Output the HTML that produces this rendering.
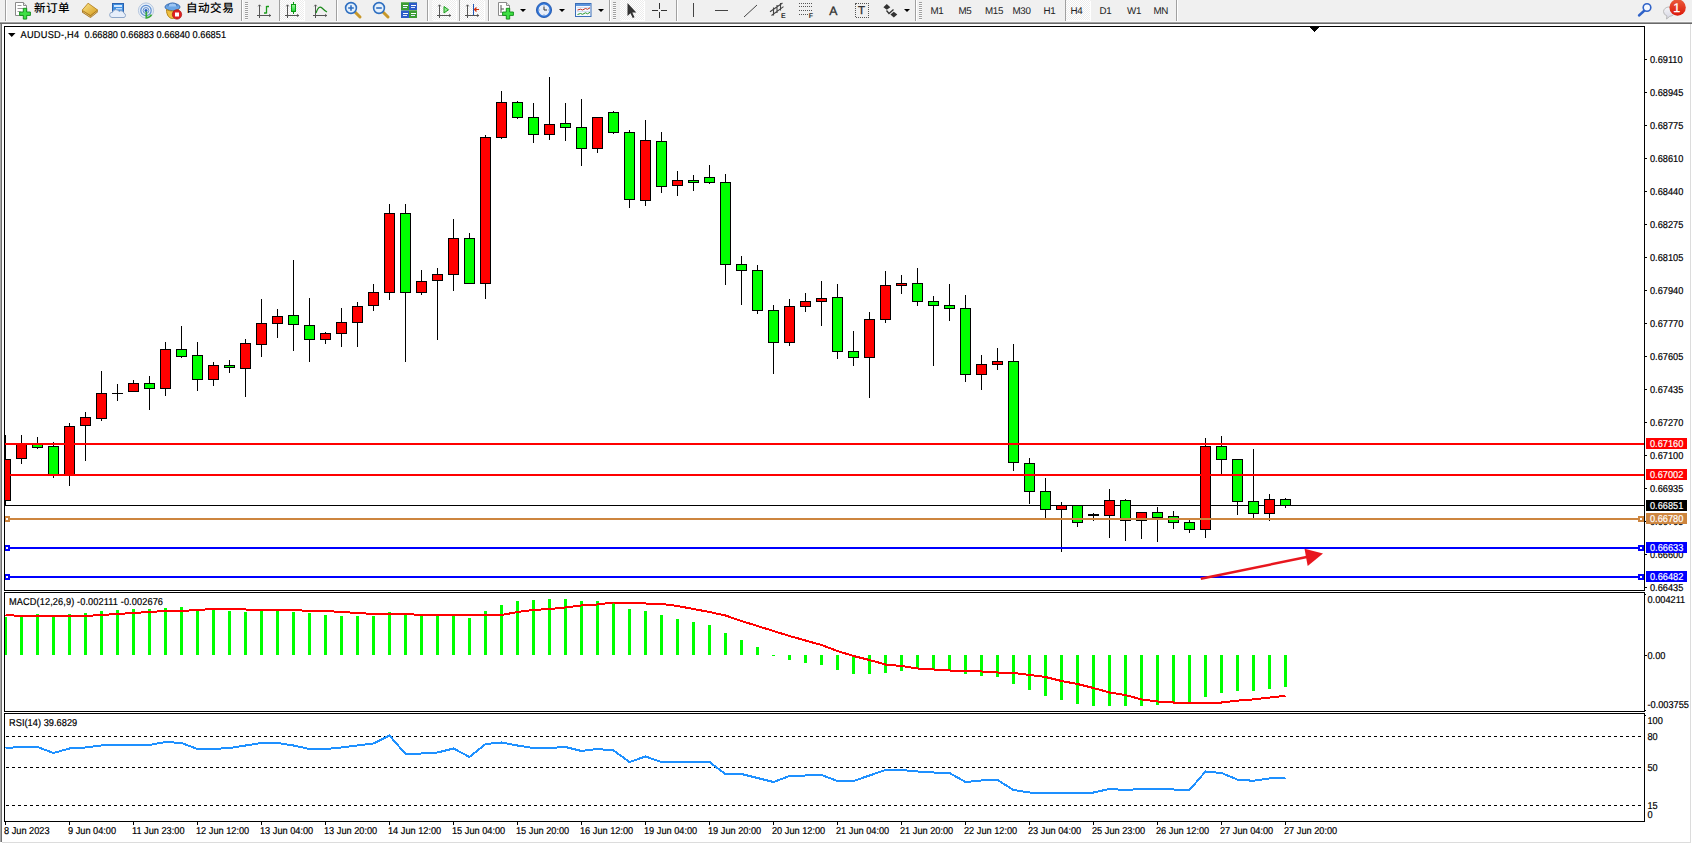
<!DOCTYPE html>
<html lang="zh"><head><meta charset="utf-8"><title>AUDUSD-,H4</title>
<style>
html,body{margin:0;padding:0;background:#fff;}
body{width:1692px;height:844px;overflow:hidden;position:relative;font-family:"Liberation Sans","Noto Sans CJK SC",sans-serif;}
#tb{position:absolute;left:0;top:0;width:1692px;height:22px;background:#f0f0f0;box-shadow:inset 0 -1px 0 #f7f7f7;}
#tbshadow{position:absolute;left:0;top:22px;width:1692px;height:2px;background:linear-gradient(#a0a0a0 0 50%,#696969 50% 100%);}
#leftedge{position:absolute;left:0;top:24px;width:2px;height:818px;background:linear-gradient(90deg,#a8a8a8 0 50%,#707070 50% 100%);}
#rightedge{position:absolute;left:1690px;top:24px;width:1px;height:819px;background:#dcdcdc;}
#botedge{position:absolute;left:2px;top:842px;width:1689px;height:1px;background:#dcdcdc;}
.sep{position:absolute;top:0;width:1px;height:21px;background:#a0a0a0;box-shadow:1px 0 0 #fff;}
.grip{position:absolute;top:2px;width:3px;height:18px;background:repeating-linear-gradient(#a0a0a0 0 1px,#fafafa 1px 2px);}
.pressed{position:absolute;top:0;height:20px;box-shadow:1px 1px 0 #fff;background:#f7f7f7;background-image:repeating-conic-gradient(#fff 0 25%,#ececec 0 50%);background-size:2px 2px;}
.t{position:absolute;color:#000;white-space:nowrap;text-rendering:geometricPrecision;}
.cn{font-size:11.6px;top:1.4px;line-height:16px;letter-spacing:.45px;font-weight:500;font-family:"Liberation Sans","Noto Sans CJK SC",sans-serif;}
.tf{font-size:9.8px;top:6.3px;line-height:11px;color:#222;letter-spacing:-.3px;}
.ic{position:absolute;overflow:visible;}
.dd{position:absolute;top:9px;width:0;height:0;border-left:3px solid transparent;border-right:3px solid transparent;border-top:3px solid #000;}
</style></head><body>
<div id="tb">
<div class="sep" style="left:5px"></div>
<!-- new order -->
<svg class="ic" style="left:14px;top:1px" width="18" height="20" viewBox="0 0 18 20"><path d="M1.5 1.5h8l3 3v10h-11z" fill="#fff" stroke="#8a8a8a"/><path d="M9.5 1.5v3h3" fill="#e8e8e8" stroke="#8a8a8a"/><path d="M3.5 4.5h4M3.5 7.5h6M3.5 10.5h3" stroke="#9a9a9a"/><path d="M9.300 7.300h3.400v3.700h3.700v3.400h-3.700v3.700h-3.400v-3.700h-3.700v-3.400h3.700z" fill="#3fe045" stroke="#0c8a14" stroke-width=".9"/></svg>
<span class="t cn" style="left:34px">新订单</span>
<!-- book -->
<svg class="ic" style="left:81px;top:2px" width="18" height="17" viewBox="0 0 18 17"><defs><linearGradient id="bk" x1="0" y1="0" x2="1" y2="1"><stop offset="0" stop-color="#fbe58a"/><stop offset="1" stop-color="#d49a1c"/></linearGradient></defs><path d="M1.100 8.200 7.100 1.200 16.700 8 16.700 10.200 9.500 15.900 1.100 10.400z" fill="#a06c14"/><path d="M1.100 8.200 7.100 1.200 16.700 8 9.500 13.600z" fill="url(#bk)" stroke="#b07c1c" stroke-width=".7"/><path d="M2 9.800 9.500 14.800 16 9.600" stroke="#f0d890" stroke-width=".7" fill="none"/></svg>
<!-- cloud -->
<svg class="ic" style="left:109px;top:2px" width="18" height="17" viewBox="0 0 18 17"><rect x="3.5" y="1.5" width="11" height="9" fill="#3f8fe0" stroke="#2a62b0"/><rect x="5" y="3" width="8" height="2" fill="#cfe6ff"/><rect x="7" y="6" width="6" height="1.5" fill="#bcd9fa"/><path d="M3 15.5a2.6 2.6 0 0 1 .5-5.2 3.6 3.6 0 0 1 6.6-.8 3 3 0 0 1 4.900 1.800 2.200 2.200 0 0 1 0 4.200z" fill="#e6eefa" stroke="#8ea6c8"/></svg>
<!-- signal -->
<svg class="ic" style="left:137px;top:2px" width="18" height="17" viewBox="0 0 18 17"><circle cx="9" cy="8.500" r="7.600" fill="#e6eef8" stroke="#a8bcd8" stroke-width=".8"/><circle cx="9" cy="8.500" r="5.200" fill="none" stroke="#5f8fd0" stroke-width="1.200"/><circle cx="9" cy="8.500" r="2.900" fill="none" stroke="#5f8fd0" stroke-width="1"/><circle cx="9" cy="8.500" r="1.500" fill="#1f5cc0"/><path d="M9.300 9.500v6.300c2.400-.2 4.200-1.400 5.200-3.200" stroke="#3aa83a" stroke-width="1.700" fill="none"/></svg>
<!-- autotrade -->
<svg class="ic" style="left:164px;top:2px" width="19" height="18" viewBox="0 0 19 18"><ellipse cx="8.500" cy="5" rx="7.500" ry="3.600" fill="#6aa6e6" stroke="#3a6eb4"/><path d="M4 4.500a4.500 3.500 0 0 1 9 0" fill="#9cc6f4" stroke="#3a6eb4"/><path d="M2.500 7.500c0 6 3 9 6 9s6-3 6-9c-3 2-9 2-12 0z" fill="#f0c040" stroke="#b58412"/><circle cx="13" cy="12.500" r="4.700" fill="#e02020" stroke="#a01010" stroke-width=".6"/><rect x="11" y="10.500" width="4" height="4" fill="#fff"/></svg>
<span class="t cn" style="left:186px">自动交易</span>
<div class="sep" style="left:241px"></div><div class="grip" style="left:245px"></div>
<!-- bar chart -->
<svg class="ic" style="left:256px;top:2px" width="17" height="17" viewBox="0 0 17 17"><path d="M3.500 2.500v13.500M1 13.500h14" stroke="#555" fill="none" shape-rendering="crispEdges"/><path d="M2.200 4.300 3.500 2.800 4.800 4.300M13.200 12.200 14.700 13.500 13.200 14.800" stroke="#555" fill="none" stroke-width=".9"/><path d="M10.500 4v7.500M10.500 4.500h2.500M8 11h2.500" stroke="#1a9a1a" stroke-width="1.300" fill="none"/></svg>
<div class="sep" style="left:279px"></div>
<div class="pressed" style="left:280px;width:24px"></div>
<svg class="ic" style="left:284px;top:2px" width="17" height="17" viewBox="0 0 17 17"><path d="M3.500 2.500v13.500M1 13.500h14" stroke="#555" fill="none" shape-rendering="crispEdges"/><path d="M2.200 4.300 3.500 2.800 4.800 4.300M13.200 12.200 14.700 13.500 13.200 14.800" stroke="#555" fill="none" stroke-width=".9"/><defs><linearGradient id="cg" x1="0" y1="0" x2="0" y2="1"><stop offset="0" stop-color="#9cf59c"/><stop offset="1" stop-color="#22d83a"/></linearGradient></defs><rect x="9" y="0" width="1" height="12" fill="#0a9a14" shape-rendering="crispEdges"/><rect x="7" y="2" width="5" height="8" fill="#0a9a14" shape-rendering="crispEdges"/><rect x="8" y="3" width="3" height="6" fill="url(#cg)" shape-rendering="crispEdges"/></svg>
<!-- line chart -->
<svg class="ic" style="left:312px;top:2px" width="17" height="17" viewBox="0 0 17 17"><path d="M3.500 2.500v13.500M1 13.500h14" stroke="#555" fill="none" shape-rendering="crispEdges"/><path d="M2.200 4.300 3.500 2.800 4.800 4.300M13.200 12.200 14.700 13.500 13.200 14.800" stroke="#555" fill="none" stroke-width=".9"/><path d="M4 11c2-6 4-7 6-5s3 3 5 4" stroke="#1a8a1a" stroke-width="1.200" fill="none"/></svg>
<div class="sep" style="left:336px"></div>
<!-- zoom in / out -->
<svg class="ic" style="left:344px;top:1px" width="18" height="18" viewBox="0 0 18 18"><path d="M10.500 10.500 16 16" stroke="#c8982a" stroke-width="3" stroke-linecap="round"/><circle cx="7" cy="7" r="5.400" fill="#e4f0fc" stroke="#2f6fc0" stroke-width="1.600"/><path d="M4.200 7h5.600M7 4.200v5.600" stroke="#2f6fc0" stroke-width="1.600"/></svg>
<svg class="ic" style="left:372px;top:1px" width="18" height="18" viewBox="0 0 18 18"><path d="M10.500 10.500 16 16" stroke="#c8982a" stroke-width="3" stroke-linecap="round"/><circle cx="7" cy="7" r="5.400" fill="#e4f0fc" stroke="#2f6fc0" stroke-width="1.600"/><path d="M4.200 7h5.600" stroke="#2f6fc0" stroke-width="1.600"/></svg>
<!-- tile -->
<svg class="ic" style="left:401px;top:2px" width="16" height="16" viewBox="0 0 16 16" shape-rendering="crispEdges"><rect x="0" y="0" width="8" height="8" fill="#3c9c34"/><rect x="8" y="0" width="8" height="8" fill="#2c5cc8"/><rect x="0" y="8" width="8" height="8" fill="#2c5cc8"/><rect x="8" y="8" width="8" height="8" fill="#3c9c34"/><path d="M1.500 3.500h5M9.500 3.500h5M1.500 11.500h5M9.500 11.500h5" stroke="#fff" stroke-width="1"/><path d="M2 5.500h4M10 5.500h4M2 13.500h4M10 13.500h4" stroke="#dfe8ff" stroke-width="1"/><path d="M0 0h16M0 8h16" stroke="#9fd08f" stroke-width="1" opacity=".5"/></svg>
<div class="sep" style="left:427px"></div>
<div class="pressed" style="left:432px;width:24px"></div>
<svg class="ic" style="left:436px;top:2px" width="17" height="17" viewBox="0 0 17 17"><path d="M3.500 2.500v13.500M1 13.500h14" stroke="#555" fill="none" shape-rendering="crispEdges"/><path d="M2.200 4.300 3.500 2.800 4.800 4.300M13.200 12.200 14.700 13.500 13.200 14.800" stroke="#555" fill="none" stroke-width=".9"/><path d="M8 4.500v6.500l4.500-3.250z" fill="#8fe88f" stroke="#1a9a1a" stroke-width="1"/></svg>
<div class="sep" style="left:459px"></div>
<div class="pressed" style="left:460px;width:24px"></div>
<svg class="ic" style="left:464px;top:2px" width="17" height="17" viewBox="0 0 17 17"><path d="M3.500 2.500v13.500M1 13.500h14" stroke="#555" fill="none" shape-rendering="crispEdges"/><path d="M2.200 4.300 3.500 2.800 4.800 4.300M13.200 12.200 14.700 13.500 13.200 14.800" stroke="#555" fill="none" stroke-width=".9"/><path d="M9.500 2v11" stroke="#1f58b8" stroke-width="1" shape-rendering="crispEdges"/><path d="M15 7.500h-4.500M12.500 5.500l-2 2 2 2" stroke="#d03010" stroke-width="1.200" fill="none"/></svg>
<div class="sep" style="left:488px"></div>
<!-- indicator add -->
<svg class="ic" style="left:497px;top:1px" width="18" height="20" viewBox="0 0 18 20"><path d="M1.500 1.500h8l3 3v10h-11z" fill="#fff" stroke="#8a8a8a"/><path d="M9.500 1.500v3h3" fill="#e8e8e8" stroke="#8a8a8a"/><path d="M4 4v8M4 8h3" stroke="#555"/><path d="M9.300 7.300h3.400v3.700h3.700v3.400h-3.700v3.700h-3.400v-3.700h-3.700v-3.400h3.700z" fill="#3fe045" stroke="#0c8a14" stroke-width=".9"/></svg>
<div class="dd" style="left:520px"></div>
<!-- clock -->
<svg class="ic" style="left:535px;top:1px" width="18" height="18" viewBox="0 0 18 18"><circle cx="9" cy="9" r="7.600" fill="#2f74d6" stroke="#1a4ea6" stroke-width=".8"/><circle cx="9" cy="9" r="5.500" fill="#e8eef8"/><path d="M9 4v1M9 13v1M4 9h1M13 9h1" stroke="#8899bb" stroke-width=".8"/><path d="M9 5.500v3.500h3" stroke="#333" fill="none"/></svg>
<div class="dd" style="left:559px"></div>
<!-- template -->
<svg class="ic" style="left:575px;top:3px" width="17" height="14" viewBox="0 0 17 14"><rect x=".5" y=".5" width="15.500" height="13" fill="#f4f8ff" stroke="#3a6eb8"/><rect x="1" y="1" width="14.500" height="2" fill="#5a94dc"/><path d="M2 4.500h13M2 8.500h13" stroke="#c8d8f0" stroke-width=".8"/><path d="M2.500 7l3-.8 2 .8 3-1.500 2 .8 2.500-1.500" stroke="#c03020" fill="none"/><path d="M2.500 11.500l3-1 2 .8 3-1.500 2 1 2.500-1.500" stroke="#2a9a2a" fill="none"/></svg>
<div class="dd" style="left:598px"></div>
<div class="sep" style="left:609px"></div><div class="grip" style="left:613px"></div>
<div class="pressed" style="left:620px;width:24px"></div>
<!-- cursor -->
<svg class="ic" style="left:626px;top:2px" width="11" height="17" viewBox="0 0 11 17"><path d="M1.500 1v13l3-2.800 2.200 4.800 1.800-.8-2.200-4.700h4z" fill="#333"/></svg>
<!-- crosshair -->
<svg class="ic" style="left:652px;top:3px" width="16" height="16" viewBox="0 0 16 16" shape-rendering="crispEdges"><path d="M7.500 0v6M7.500 9v6M0 7.500h6M9 7.500h6" stroke="#333"/></svg>
<div class="sep" style="left:676px"></div>
<svg class="ic" style="left:686px;top:2px" width="160" height="18" viewBox="0 0 160 18"><path d="M7.500 1v14" stroke="#444" shape-rendering="crispEdges"/><path d="M29 8.500h13" stroke="#444" shape-rendering="crispEdges"/><path d="M58 15 71 3" stroke="#444"/><path d="M84 9.800 96.500 1M85.500 13.500 97.500 4.600M87.500 5.500v8M91 3v8M94.500 1v7.500" stroke="#444" fill="none" stroke-width="1.100"/><path d="M113 1.500h14M113 4.500h14M113 8.500h14M113 12.500h9" stroke="#555" stroke-dasharray="1 1" shape-rendering="crispEdges"/></svg>
<span class="t" style="left:781px;top:13.300px;font-size:7px;line-height:8px;font-weight:bold;color:#333">E</span>
<span class="t" style="left:808.700px;top:13.300px;font-size:7px;line-height:8px;font-weight:bold;color:#333">F</span>
<span class="t" style="left:829.300px;top:3.600px;font-size:12.200px;line-height:14px;color:#333;-webkit-text-stroke:.35px #333">A</span>
<!-- text label -->
<svg class="ic" style="left:855px;top:3px" width="14" height="15" viewBox="0 0 14 15"><rect x=".5" y=".5" width="13" height="13.500" fill="none" stroke="#555" stroke-dasharray="1 1" shape-rendering="crispEdges"/></svg>
<span class="t" style="left:858px;top:3.800px;font-size:11.500px;line-height:14px;color:#333;-webkit-text-stroke:.35px #333">T</span>
<!-- arrows -->
<svg class="ic" style="left:883px;top:4px" width="15" height="14" viewBox="0 0 15 14"><path d="M3.800 0 7.300 3.200 3.800 5.800.4 3.200zM10.800 7.800 14.300 10.400 10.800 13.600 7.400 10.400z" fill="#333"/><path d="M3.500 6.500 6 9.500 10.500 5.500" stroke="#333" stroke-width="1.300" fill="none"/></svg>
<div class="dd" style="left:904px"></div>
<div class="sep" style="left:915px"></div><div class="grip" style="left:919px"></div>
<span class="t tf" style="left:930.500px">M1</span>
<span class="t tf" style="left:958.500px">M5</span>
<span class="t tf" style="left:985px">M15</span>
<span class="t tf" style="left:1012.500px">M30</span>
<span class="t tf" style="left:1043.500px">H1</span>
<div class="sep" style="left:1065px"></div>
<div class="pressed" style="left:1066px;width:24px"></div>
<span class="t tf" style="left:1070.500px">H4</span>
<span class="t tf" style="left:1099.500px">D1</span>
<span class="t tf" style="left:1127px">W1</span>
<span class="t tf" style="left:1153.500px">MN</span>
<div class="sep" style="left:1176px"></div>
<!-- search -->
<svg class="ic" style="left:1637px;top:2px" width="16" height="15" viewBox="0 0 16 15"><path d="M8 8 2 13.500" stroke="#2f62c8" stroke-width="2.400" stroke-linecap="round"/><circle cx="10" cy="5.500" r="3.800" fill="#f4f8ff" stroke="#2f62c8" stroke-width="1.600"/></svg>
<!-- chat -->
<svg class="ic" style="left:1662px;top:0" width="26" height="20" viewBox="0 0 26 20"><defs><linearGradient id="rg" x1="0" y1="0" x2="0" y2="1"><stop offset="0" stop-color="#ea5c3c"/><stop offset="1" stop-color="#dc180a"/></linearGradient><linearGradient id="bg" x1="0" y1="0" x2="0" y2="1"><stop offset="0" stop-color="#f6f6f8"/><stop offset="1" stop-color="#d4d4e2"/></linearGradient></defs><path d="M1.500 11.600a5.700 4.700 0 1 1 6.300 4.700l-3.300 2.700.4-3.100a5.700 4.700 0 0 1-3.400-4.300z" fill="url(#bg)" stroke="#b4b4b4" stroke-width=".9"/><circle cx="15.600" cy="7.500" r="8.200" fill="url(#rg)"/></svg>
<span class="t" style="left:1673.200px;top:1px;font-size:12.500px;line-height:15px;color:#fff;-webkit-text-stroke:.3px #fff">1</span>
</div>
<div id="tbshadow"></div>
<div id="leftedge"></div><div id="rightedge"></div><div id="botedge"></div>
<svg id="chart" width="1692" height="822" viewBox="0 0 1692 822" style="position:absolute;left:0;top:22px" shape-rendering="crispEdges">
<g transform="translate(0,-22)">
<clipPath id="cm"><rect x="5" y="27" width="1639" height="563"/></clipPath>
<clipPath id="cd"><rect x="5" y="593" width="1639" height="118"/></clipPath>
<clipPath id="cr"><rect x="5" y="714" width="1639" height="107"/></clipPath>
<rect x="5" y="505" width="1639" height="1" fill="#000"/>
<g clip-path="url(#cm)">
<rect x="5" y="435" width="1" height="70" fill="#000"/>
<rect x="0" y="459" width="11" height="42" fill="#000"/>
<rect x="1" y="460" width="9" height="40" fill="#ff0000"/>
<rect x="21" y="435" width="1" height="29" fill="#000"/>
<rect x="16" y="444" width="11" height="15" fill="#000"/>
<rect x="17" y="445" width="9" height="13" fill="#ff0000"/>
<rect x="37" y="437" width="1" height="12" fill="#000"/>
<rect x="32" y="444" width="11" height="4" fill="#000"/>
<rect x="33" y="445" width="9" height="2" fill="#00ff00"/>
<rect x="53" y="442" width="1" height="36" fill="#000"/>
<rect x="48" y="446" width="11" height="29" fill="#000"/>
<rect x="49" y="447" width="9" height="27" fill="#00ff00"/>
<rect x="69" y="423" width="1" height="63" fill="#000"/>
<rect x="64" y="426" width="11" height="50" fill="#000"/>
<rect x="65" y="427" width="9" height="48" fill="#ff0000"/>
<rect x="85" y="412" width="1" height="49" fill="#000"/>
<rect x="80" y="417" width="11" height="9" fill="#000"/>
<rect x="81" y="418" width="9" height="7" fill="#ff0000"/>
<rect x="101" y="371" width="1" height="50" fill="#000"/>
<rect x="96" y="393" width="11" height="26" fill="#000"/>
<rect x="97" y="394" width="9" height="24" fill="#ff0000"/>
<rect x="117" y="384" width="1" height="17" fill="#000"/>
<rect x="112" y="393" width="11" height="1" fill="#000"/>
<rect x="133" y="380" width="1" height="11" fill="#000"/>
<rect x="128" y="383" width="11" height="9" fill="#000"/>
<rect x="129" y="384" width="9" height="7" fill="#ff0000"/>
<rect x="149" y="376" width="1" height="34" fill="#000"/>
<rect x="144" y="383" width="11" height="6" fill="#000"/>
<rect x="145" y="384" width="9" height="4" fill="#00ff00"/>
<rect x="165" y="342" width="1" height="54" fill="#000"/>
<rect x="160" y="349" width="11" height="40" fill="#000"/>
<rect x="161" y="350" width="9" height="38" fill="#ff0000"/>
<rect x="181" y="326" width="1" height="32" fill="#000"/>
<rect x="176" y="349" width="11" height="8" fill="#000"/>
<rect x="177" y="350" width="9" height="6" fill="#00ff00"/>
<rect x="197" y="342" width="1" height="49" fill="#000"/>
<rect x="192" y="355" width="11" height="25" fill="#000"/>
<rect x="193" y="356" width="9" height="23" fill="#00ff00"/>
<rect x="213" y="362" width="1" height="24" fill="#000"/>
<rect x="208" y="365" width="11" height="15" fill="#000"/>
<rect x="209" y="366" width="9" height="13" fill="#ff0000"/>
<rect x="229" y="360" width="1" height="13" fill="#000"/>
<rect x="224" y="365" width="11" height="3" fill="#000"/>
<rect x="225" y="366" width="9" height="1" fill="#00ff00"/>
<rect x="245" y="339" width="1" height="58" fill="#000"/>
<rect x="240" y="343" width="11" height="26" fill="#000"/>
<rect x="241" y="344" width="9" height="24" fill="#ff0000"/>
<rect x="261" y="299" width="1" height="58" fill="#000"/>
<rect x="256" y="323" width="11" height="22" fill="#000"/>
<rect x="257" y="324" width="9" height="20" fill="#ff0000"/>
<rect x="277" y="309" width="1" height="29" fill="#000"/>
<rect x="272" y="316" width="11" height="8" fill="#000"/>
<rect x="273" y="317" width="9" height="6" fill="#ff0000"/>
<rect x="293" y="260" width="1" height="91" fill="#000"/>
<rect x="288" y="315" width="11" height="10" fill="#000"/>
<rect x="289" y="316" width="9" height="8" fill="#00ff00"/>
<rect x="309" y="298" width="1" height="64" fill="#000"/>
<rect x="304" y="325" width="11" height="15" fill="#000"/>
<rect x="305" y="326" width="9" height="13" fill="#00ff00"/>
<rect x="325" y="332" width="1" height="12" fill="#000"/>
<rect x="320" y="333" width="11" height="7" fill="#000"/>
<rect x="321" y="334" width="9" height="5" fill="#ff0000"/>
<rect x="341" y="308" width="1" height="39" fill="#000"/>
<rect x="336" y="322" width="11" height="12" fill="#000"/>
<rect x="337" y="323" width="9" height="10" fill="#ff0000"/>
<rect x="357" y="302" width="1" height="45" fill="#000"/>
<rect x="352" y="306" width="11" height="17" fill="#000"/>
<rect x="353" y="307" width="9" height="15" fill="#ff0000"/>
<rect x="373" y="284" width="1" height="27" fill="#000"/>
<rect x="368" y="292" width="11" height="14" fill="#000"/>
<rect x="369" y="293" width="9" height="12" fill="#ff0000"/>
<rect x="389" y="204" width="1" height="96" fill="#000"/>
<rect x="384" y="213" width="11" height="80" fill="#000"/>
<rect x="385" y="214" width="9" height="78" fill="#ff0000"/>
<rect x="405" y="204" width="1" height="158" fill="#000"/>
<rect x="400" y="213" width="11" height="80" fill="#000"/>
<rect x="401" y="214" width="9" height="78" fill="#00ff00"/>
<rect x="421" y="270" width="1" height="25" fill="#000"/>
<rect x="416" y="281" width="11" height="12" fill="#000"/>
<rect x="417" y="282" width="9" height="10" fill="#ff0000"/>
<rect x="437" y="268" width="1" height="72" fill="#000"/>
<rect x="432" y="274" width="11" height="7" fill="#000"/>
<rect x="433" y="275" width="9" height="5" fill="#ff0000"/>
<rect x="453" y="219" width="1" height="72" fill="#000"/>
<rect x="448" y="238" width="11" height="37" fill="#000"/>
<rect x="449" y="239" width="9" height="35" fill="#ff0000"/>
<rect x="469" y="233" width="1" height="50" fill="#000"/>
<rect x="464" y="238" width="11" height="46" fill="#000"/>
<rect x="465" y="239" width="9" height="44" fill="#00ff00"/>
<rect x="485" y="135" width="1" height="164" fill="#000"/>
<rect x="480" y="137" width="11" height="147" fill="#000"/>
<rect x="481" y="138" width="9" height="145" fill="#ff0000"/>
<rect x="501" y="91" width="1" height="48" fill="#000"/>
<rect x="496" y="102" width="11" height="36" fill="#000"/>
<rect x="497" y="103" width="9" height="34" fill="#ff0000"/>
<rect x="517" y="101" width="1" height="18" fill="#000"/>
<rect x="512" y="102" width="11" height="16" fill="#000"/>
<rect x="513" y="103" width="9" height="14" fill="#00ff00"/>
<rect x="533" y="103" width="1" height="40" fill="#000"/>
<rect x="528" y="117" width="11" height="18" fill="#000"/>
<rect x="529" y="118" width="9" height="16" fill="#00ff00"/>
<rect x="549" y="77" width="1" height="63" fill="#000"/>
<rect x="544" y="124" width="11" height="11" fill="#000"/>
<rect x="545" y="125" width="9" height="9" fill="#ff0000"/>
<rect x="565" y="103" width="1" height="38" fill="#000"/>
<rect x="560" y="123" width="11" height="5" fill="#000"/>
<rect x="561" y="124" width="9" height="3" fill="#00ff00"/>
<rect x="581" y="99" width="1" height="67" fill="#000"/>
<rect x="576" y="127" width="11" height="22" fill="#000"/>
<rect x="577" y="128" width="9" height="20" fill="#00ff00"/>
<rect x="597" y="117" width="1" height="36" fill="#000"/>
<rect x="592" y="117" width="11" height="32" fill="#000"/>
<rect x="593" y="118" width="9" height="30" fill="#ff0000"/>
<rect x="613" y="111" width="1" height="23" fill="#000"/>
<rect x="608" y="112" width="11" height="21" fill="#000"/>
<rect x="609" y="113" width="9" height="19" fill="#00ff00"/>
<rect x="629" y="130" width="1" height="78" fill="#000"/>
<rect x="624" y="132" width="11" height="68" fill="#000"/>
<rect x="625" y="133" width="9" height="66" fill="#00ff00"/>
<rect x="645" y="120" width="1" height="86" fill="#000"/>
<rect x="640" y="140" width="11" height="61" fill="#000"/>
<rect x="641" y="141" width="9" height="59" fill="#ff0000"/>
<rect x="661" y="132" width="1" height="61" fill="#000"/>
<rect x="656" y="141" width="11" height="46" fill="#000"/>
<rect x="657" y="142" width="9" height="44" fill="#00ff00"/>
<rect x="677" y="171" width="1" height="25" fill="#000"/>
<rect x="672" y="180" width="11" height="6" fill="#000"/>
<rect x="673" y="181" width="9" height="4" fill="#ff0000"/>
<rect x="693" y="175" width="1" height="16" fill="#000"/>
<rect x="688" y="180" width="11" height="3" fill="#000"/>
<rect x="689" y="181" width="9" height="1" fill="#00ff00"/>
<rect x="709" y="165" width="1" height="19" fill="#000"/>
<rect x="704" y="177" width="11" height="6" fill="#000"/>
<rect x="705" y="178" width="9" height="4" fill="#00ff00"/>
<rect x="725" y="174" width="1" height="111" fill="#000"/>
<rect x="720" y="182" width="11" height="83" fill="#000"/>
<rect x="721" y="183" width="9" height="81" fill="#00ff00"/>
<rect x="741" y="256" width="1" height="49" fill="#000"/>
<rect x="736" y="264" width="11" height="7" fill="#000"/>
<rect x="737" y="265" width="9" height="5" fill="#00ff00"/>
<rect x="757" y="265" width="1" height="49" fill="#000"/>
<rect x="752" y="270" width="11" height="41" fill="#000"/>
<rect x="753" y="271" width="9" height="39" fill="#00ff00"/>
<rect x="773" y="305" width="1" height="69" fill="#000"/>
<rect x="768" y="310" width="11" height="33" fill="#000"/>
<rect x="769" y="311" width="9" height="31" fill="#00ff00"/>
<rect x="789" y="299" width="1" height="47" fill="#000"/>
<rect x="784" y="306" width="11" height="37" fill="#000"/>
<rect x="785" y="307" width="9" height="35" fill="#ff0000"/>
<rect x="805" y="293" width="1" height="19" fill="#000"/>
<rect x="800" y="301" width="11" height="6" fill="#000"/>
<rect x="801" y="302" width="9" height="4" fill="#ff0000"/>
<rect x="821" y="281" width="1" height="45" fill="#000"/>
<rect x="816" y="298" width="11" height="4" fill="#000"/>
<rect x="817" y="299" width="9" height="2" fill="#ff0000"/>
<rect x="837" y="284" width="1" height="75" fill="#000"/>
<rect x="832" y="297" width="11" height="55" fill="#000"/>
<rect x="833" y="298" width="9" height="53" fill="#00ff00"/>
<rect x="853" y="331" width="1" height="35" fill="#000"/>
<rect x="848" y="351" width="11" height="7" fill="#000"/>
<rect x="849" y="352" width="9" height="5" fill="#00ff00"/>
<rect x="869" y="312" width="1" height="86" fill="#000"/>
<rect x="864" y="319" width="11" height="39" fill="#000"/>
<rect x="865" y="320" width="9" height="37" fill="#ff0000"/>
<rect x="885" y="271" width="1" height="52" fill="#000"/>
<rect x="880" y="285" width="11" height="35" fill="#000"/>
<rect x="881" y="286" width="9" height="33" fill="#ff0000"/>
<rect x="901" y="275" width="1" height="19" fill="#000"/>
<rect x="896" y="283" width="11" height="3" fill="#000"/>
<rect x="897" y="284" width="9" height="1" fill="#ff0000"/>
<rect x="917" y="268" width="1" height="38" fill="#000"/>
<rect x="912" y="283" width="11" height="19" fill="#000"/>
<rect x="913" y="284" width="9" height="17" fill="#00ff00"/>
<rect x="933" y="296" width="1" height="70" fill="#000"/>
<rect x="928" y="301" width="11" height="5" fill="#000"/>
<rect x="929" y="302" width="9" height="3" fill="#00ff00"/>
<rect x="949" y="284" width="1" height="37" fill="#000"/>
<rect x="944" y="305" width="11" height="4" fill="#000"/>
<rect x="945" y="306" width="9" height="2" fill="#00ff00"/>
<rect x="965" y="295" width="1" height="87" fill="#000"/>
<rect x="960" y="308" width="11" height="67" fill="#000"/>
<rect x="961" y="309" width="9" height="65" fill="#00ff00"/>
<rect x="981" y="355" width="1" height="35" fill="#000"/>
<rect x="976" y="364" width="11" height="11" fill="#000"/>
<rect x="977" y="365" width="9" height="9" fill="#ff0000"/>
<rect x="997" y="348" width="1" height="22" fill="#000"/>
<rect x="992" y="361" width="11" height="4" fill="#000"/>
<rect x="993" y="362" width="9" height="2" fill="#ff0000"/>
<rect x="1013" y="344" width="1" height="127" fill="#000"/>
<rect x="1008" y="361" width="11" height="102" fill="#000"/>
<rect x="1009" y="362" width="9" height="100" fill="#00ff00"/>
<rect x="1029" y="458" width="1" height="46" fill="#000"/>
<rect x="1024" y="463" width="11" height="29" fill="#000"/>
<rect x="1025" y="464" width="9" height="27" fill="#00ff00"/>
<rect x="1045" y="478" width="1" height="40" fill="#000"/>
<rect x="1040" y="491" width="11" height="19" fill="#000"/>
<rect x="1041" y="492" width="9" height="17" fill="#00ff00"/>
<rect x="1061" y="502" width="1" height="50" fill="#000"/>
<rect x="1056" y="505" width="11" height="5" fill="#000"/>
<rect x="1057" y="506" width="9" height="3" fill="#ff0000"/>
<rect x="1077" y="505" width="1" height="22" fill="#000"/>
<rect x="1072" y="505" width="11" height="18" fill="#000"/>
<rect x="1073" y="506" width="9" height="16" fill="#00ff00"/>
<rect x="1093" y="513" width="1" height="8" fill="#000"/>
<rect x="1088" y="514" width="11" height="2" fill="#000"/>
<rect x="1109" y="489" width="1" height="49" fill="#000"/>
<rect x="1104" y="500" width="11" height="16" fill="#000"/>
<rect x="1105" y="501" width="9" height="14" fill="#ff0000"/>
<rect x="1125" y="499" width="1" height="42" fill="#000"/>
<rect x="1120" y="500" width="11" height="21" fill="#000"/>
<rect x="1121" y="501" width="9" height="19" fill="#00ff00"/>
<rect x="1141" y="512" width="1" height="27" fill="#000"/>
<rect x="1136" y="512" width="11" height="9" fill="#000"/>
<rect x="1137" y="513" width="9" height="7" fill="#ff0000"/>
<rect x="1157" y="507" width="1" height="35" fill="#000"/>
<rect x="1152" y="512" width="11" height="6" fill="#000"/>
<rect x="1153" y="513" width="9" height="4" fill="#00ff00"/>
<rect x="1173" y="511" width="1" height="18" fill="#000"/>
<rect x="1168" y="516" width="11" height="7" fill="#000"/>
<rect x="1169" y="517" width="9" height="5" fill="#00ff00"/>
<rect x="1189" y="520" width="1" height="13" fill="#000"/>
<rect x="1184" y="522" width="11" height="8" fill="#000"/>
<rect x="1185" y="523" width="9" height="6" fill="#00ff00"/>
<rect x="1205" y="438" width="1" height="100" fill="#000"/>
<rect x="1200" y="446" width="11" height="84" fill="#000"/>
<rect x="1201" y="447" width="9" height="82" fill="#ff0000"/>
<rect x="1221" y="436" width="1" height="38" fill="#000"/>
<rect x="1216" y="446" width="11" height="14" fill="#000"/>
<rect x="1217" y="447" width="9" height="12" fill="#00ff00"/>
<rect x="1237" y="459" width="1" height="56" fill="#000"/>
<rect x="1232" y="459" width="11" height="43" fill="#000"/>
<rect x="1233" y="460" width="9" height="41" fill="#00ff00"/>
<rect x="1253" y="449" width="1" height="69" fill="#000"/>
<rect x="1248" y="501" width="11" height="13" fill="#000"/>
<rect x="1249" y="502" width="9" height="11" fill="#00ff00"/>
<rect x="1269" y="494" width="1" height="27" fill="#000"/>
<rect x="1264" y="499" width="11" height="15" fill="#000"/>
<rect x="1265" y="500" width="9" height="13" fill="#ff0000"/>
<rect x="1285" y="498" width="1" height="10" fill="#000"/>
<rect x="1280" y="499" width="11" height="7" fill="#000"/>
<rect x="1281" y="500" width="9" height="5" fill="#00ff00"/>
</g>
<rect x="5" y="443" width="1639" height="2" fill="#ff0000"/>
<rect x="5" y="474" width="1639" height="2" fill="#ff0000"/>
<rect x="5" y="518" width="1639" height="2" fill="#cd853f"/>
<rect x="5" y="547" width="1639" height="2" fill="#0000ff"/>
<rect x="5" y="576" width="1639" height="2" fill="#0000ff"/>
<rect x="4" y="516" width="6" height="6" fill="#cd853f"/><rect x="6" y="518" width="2" height="2" fill="#fff"/>
<rect x="1638" y="516" width="6" height="6" fill="#cd853f"/><rect x="1640" y="518" width="2" height="2" fill="#fff"/>
<rect x="4" y="545" width="6" height="6" fill="#0000ff"/><rect x="6" y="547" width="2" height="2" fill="#fff"/>
<rect x="1638" y="545" width="6" height="6" fill="#0000ff"/><rect x="1640" y="547" width="2" height="2" fill="#fff"/>
<rect x="4" y="574" width="6" height="6" fill="#0000ff"/><rect x="6" y="576" width="2" height="2" fill="#fff"/>
<rect x="1638" y="574" width="6" height="6" fill="#0000ff"/><rect x="1640" y="576" width="2" height="2" fill="#fff"/>
<g shape-rendering="geometricPrecision"><line x1="1200.8" y1="578.8" x2="1308" y2="556.8" stroke="#e8161e" stroke-width="2.5"/><polygon points="1304.5,548.8 1323,553.5 1307.7,565.9" fill="#e8161e"/></g>
<rect x="4" y="26" width="1641" height="1" fill="#000"/>
<rect x="4" y="590" width="1641" height="1" fill="#000"/>
<rect x="4" y="26" width="1" height="564" fill="#000"/>
<rect x="1644" y="26" width="1" height="565" fill="#000"/>
<rect x="4" y="592" width="1641" height="1" fill="#000"/>
<rect x="4" y="711" width="1641" height="1" fill="#000"/>
<rect x="4" y="592" width="1" height="119" fill="#000"/>
<rect x="1644" y="592" width="1" height="120" fill="#000"/>
<rect x="4" y="713" width="1641" height="1" fill="#000"/>
<rect x="4" y="821" width="1641" height="1" fill="#000"/>
<rect x="4" y="713" width="1" height="108" fill="#000"/>
<rect x="1644" y="713" width="1" height="109" fill="#000"/>
<rect x="1310" y="27" width="9" height="1" fill="#000"/>
<rect x="1311" y="28" width="7" height="1" fill="#000"/>
<rect x="1312" y="29" width="5" height="1" fill="#000"/>
<rect x="1313" y="30" width="3" height="1" fill="#000"/>
<rect x="1314" y="31" width="1" height="1" fill="#000"/>
<g clip-path="url(#cd)">
<rect x="4" y="617" width="3" height="38" fill="#00ff00"/>
<rect x="20" y="616" width="3" height="39" fill="#00ff00"/>
<rect x="36" y="614" width="3" height="41" fill="#00ff00"/>
<rect x="52" y="617" width="3" height="38" fill="#00ff00"/>
<rect x="68" y="614" width="3" height="41" fill="#00ff00"/>
<rect x="84" y="613" width="3" height="42" fill="#00ff00"/>
<rect x="100" y="611" width="3" height="44" fill="#00ff00"/>
<rect x="116" y="610" width="3" height="45" fill="#00ff00"/>
<rect x="132" y="609" width="3" height="46" fill="#00ff00"/>
<rect x="148" y="609" width="3" height="46" fill="#00ff00"/>
<rect x="164" y="608" width="3" height="47" fill="#00ff00"/>
<rect x="180" y="607" width="3" height="48" fill="#00ff00"/>
<rect x="196" y="610" width="3" height="45" fill="#00ff00"/>
<rect x="212" y="610" width="3" height="45" fill="#00ff00"/>
<rect x="228" y="611" width="3" height="44" fill="#00ff00"/>
<rect x="244" y="612" width="3" height="43" fill="#00ff00"/>
<rect x="260" y="611" width="3" height="44" fill="#00ff00"/>
<rect x="276" y="611" width="3" height="44" fill="#00ff00"/>
<rect x="292" y="612" width="3" height="43" fill="#00ff00"/>
<rect x="308" y="613" width="3" height="42" fill="#00ff00"/>
<rect x="324" y="615" width="3" height="40" fill="#00ff00"/>
<rect x="340" y="616" width="3" height="39" fill="#00ff00"/>
<rect x="356" y="616" width="3" height="39" fill="#00ff00"/>
<rect x="372" y="616" width="3" height="39" fill="#00ff00"/>
<rect x="388" y="612" width="3" height="43" fill="#00ff00"/>
<rect x="404" y="614" width="3" height="41" fill="#00ff00"/>
<rect x="420" y="615" width="3" height="40" fill="#00ff00"/>
<rect x="436" y="615" width="3" height="40" fill="#00ff00"/>
<rect x="452" y="615" width="3" height="40" fill="#00ff00"/>
<rect x="468" y="618" width="3" height="37" fill="#00ff00"/>
<rect x="484" y="611" width="3" height="44" fill="#00ff00"/>
<rect x="500" y="605" width="3" height="50" fill="#00ff00"/>
<rect x="516" y="601" width="3" height="54" fill="#00ff00"/>
<rect x="532" y="600" width="3" height="55" fill="#00ff00"/>
<rect x="548" y="599" width="3" height="56" fill="#00ff00"/>
<rect x="564" y="599" width="3" height="56" fill="#00ff00"/>
<rect x="580" y="601" width="3" height="54" fill="#00ff00"/>
<rect x="596" y="601" width="3" height="54" fill="#00ff00"/>
<rect x="612" y="603" width="3" height="52" fill="#00ff00"/>
<rect x="628" y="609" width="3" height="46" fill="#00ff00"/>
<rect x="644" y="611" width="3" height="44" fill="#00ff00"/>
<rect x="660" y="615" width="3" height="40" fill="#00ff00"/>
<rect x="676" y="619" width="3" height="36" fill="#00ff00"/>
<rect x="692" y="622" width="3" height="33" fill="#00ff00"/>
<rect x="708" y="625" width="3" height="30" fill="#00ff00"/>
<rect x="724" y="633" width="3" height="22" fill="#00ff00"/>
<rect x="740" y="640" width="3" height="15" fill="#00ff00"/>
<rect x="756" y="647" width="3" height="8" fill="#00ff00"/>
<rect x="772" y="655" width="3" height="1" fill="#00ff00"/>
<rect x="788" y="655" width="3" height="5" fill="#00ff00"/>
<rect x="804" y="655" width="3" height="8" fill="#00ff00"/>
<rect x="820" y="655" width="3" height="10" fill="#00ff00"/>
<rect x="836" y="655" width="3" height="15" fill="#00ff00"/>
<rect x="852" y="655" width="3" height="19" fill="#00ff00"/>
<rect x="868" y="655" width="3" height="19" fill="#00ff00"/>
<rect x="884" y="655" width="3" height="18" fill="#00ff00"/>
<rect x="900" y="655" width="3" height="16" fill="#00ff00"/>
<rect x="916" y="655" width="3" height="14" fill="#00ff00"/>
<rect x="932" y="655" width="3" height="15" fill="#00ff00"/>
<rect x="948" y="655" width="3" height="16" fill="#00ff00"/>
<rect x="964" y="655" width="3" height="19" fill="#00ff00"/>
<rect x="980" y="655" width="3" height="21" fill="#00ff00"/>
<rect x="996" y="655" width="3" height="22" fill="#00ff00"/>
<rect x="1012" y="655" width="3" height="29" fill="#00ff00"/>
<rect x="1028" y="655" width="3" height="35" fill="#00ff00"/>
<rect x="1044" y="655" width="3" height="41" fill="#00ff00"/>
<rect x="1060" y="655" width="3" height="45" fill="#00ff00"/>
<rect x="1076" y="655" width="3" height="49" fill="#00ff00"/>
<rect x="1092" y="655" width="3" height="51" fill="#00ff00"/>
<rect x="1108" y="655" width="3" height="51" fill="#00ff00"/>
<rect x="1124" y="655" width="3" height="51" fill="#00ff00"/>
<rect x="1140" y="655" width="3" height="51" fill="#00ff00"/>
<rect x="1156" y="655" width="3" height="50" fill="#00ff00"/>
<rect x="1172" y="655" width="3" height="47" fill="#00ff00"/>
<rect x="1188" y="655" width="3" height="47" fill="#00ff00"/>
<rect x="1204" y="655" width="3" height="42" fill="#00ff00"/>
<rect x="1220" y="655" width="3" height="38" fill="#00ff00"/>
<rect x="1236" y="655" width="3" height="36" fill="#00ff00"/>
<rect x="1252" y="655" width="3" height="36" fill="#00ff00"/>
<rect x="1268" y="655" width="3" height="34" fill="#00ff00"/>
<rect x="1284" y="655" width="3" height="32" fill="#00ff00"/>
<polyline points="5.5,615 21.5,616 37.5,616 53.5,616 69.5,616 85.5,616 101.5,615 117.5,614 133.5,613 149.5,612 165.5,611 181.5,611 197.5,610 213.5,609 229.5,609 245.5,609.5 261.5,610 277.5,610 293.5,610 309.5,611 325.5,611 341.5,612 357.5,613 373.5,614 389.5,614 405.5,614 421.5,615 437.5,615 453.5,615 469.5,615 485.5,615 501.5,615 517.5,612 533.5,610 549.5,609 565.5,607.5 581.5,605.5 597.5,604.5 613.5,602.5 629.5,602.5 645.5,603.5 661.5,604 677.5,606 693.5,609 709.5,612 725.5,615.5 741.5,621 757.5,626 773.5,631 789.5,636 805.5,640.5 821.5,645 837.5,651 853.5,656 869.5,660 885.5,664.5 901.5,666 917.5,668.5 933.5,669.5 949.5,670.5 965.5,671 981.5,671.5 997.5,672.5 1013.5,673 1029.5,675 1045.5,677 1061.5,681 1077.5,684 1093.5,688 1109.5,692.5 1125.5,695 1141.5,699.5 1157.5,701.5 1173.5,702.5 1189.5,702.5 1205.5,702.5 1221.5,702.5 1237.5,700.6 1253.5,699.4 1269.5,697.6 1285.5,695.7" fill="none" stroke="#ff0000" stroke-width="2" shape-rendering="crispEdges"/>
</g>
<g clip-path="url(#cr)">
<line x1="6" x2="1644" y1="736.5" y2="736.5" stroke="#000" stroke-width="1" stroke-dasharray="3 3"/>
<line x1="6" x2="1644" y1="767.5" y2="767.5" stroke="#000" stroke-width="1" stroke-dasharray="3 3"/>
<line x1="6" x2="1644" y1="805.5" y2="805.5" stroke="#000" stroke-width="1" stroke-dasharray="3 3"/>
<polyline points="5.5,748 21.5,747 37.5,747 53.5,753 69.5,748.5 85.5,747.5 101.5,745.5 117.5,745 133.5,745 149.5,745 165.5,742 181.5,743 197.5,749 213.5,749 229.5,748 245.5,745.5 261.5,743 277.5,743 293.5,745.5 309.5,749 325.5,749 341.5,747.5 357.5,745.5 373.5,743.5 389.5,735.5 405.5,754 421.5,753.5 437.5,752.5 453.5,748.5 469.5,757 485.5,744 501.5,742.5 517.5,745.5 533.5,748 549.5,748 565.5,747 581.5,751 597.5,749 613.5,750.5 629.5,762 645.5,756.5 661.5,762 677.5,762 693.5,762 709.5,762 725.5,774 741.5,774 757.5,778 773.5,782 789.5,776 805.5,775.5 821.5,775 837.5,781 853.5,781 869.5,775.5 885.5,770 901.5,770 917.5,771.5 933.5,772.5 949.5,773 965.5,782 981.5,780.5 997.5,780 1013.5,790 1029.5,792.5 1045.5,792.5 1061.5,792.5 1077.5,792.5 1093.5,792.5 1109.5,789 1125.5,790 1141.5,789 1157.5,789 1173.5,789.5 1189.5,790 1205.5,771.5 1221.5,773 1237.5,779.6 1253.5,780.8 1269.5,778.4 1285.5,777.8" fill="none" stroke="#1e90ff" stroke-width="2" shape-rendering="crispEdges" stroke-linejoin="round"/>
</g>
<rect x="1645" y="59" width="2" height="1" fill="#000"/>
<text transform="translate(1650.0 63.0) scale(0.92 1)" font-family="Liberation Sans, sans-serif" font-size="10" text-rendering="geometricPrecision" fill="#000" stroke="#000" stroke-width="0.2">0.69110</text>
<rect x="1645" y="92" width="2" height="1" fill="#000"/>
<text transform="translate(1650.0 96.0) scale(0.92 1)" font-family="Liberation Sans, sans-serif" font-size="10" text-rendering="geometricPrecision" fill="#000" stroke="#000" stroke-width="0.2">0.68945</text>
<rect x="1645" y="125" width="2" height="1" fill="#000"/>
<text transform="translate(1650.0 129.0) scale(0.92 1)" font-family="Liberation Sans, sans-serif" font-size="10" text-rendering="geometricPrecision" fill="#000" stroke="#000" stroke-width="0.2">0.68775</text>
<rect x="1645" y="158" width="2" height="1" fill="#000"/>
<text transform="translate(1650.0 162.0) scale(0.92 1)" font-family="Liberation Sans, sans-serif" font-size="10" text-rendering="geometricPrecision" fill="#000" stroke="#000" stroke-width="0.2">0.68610</text>
<rect x="1645" y="191" width="2" height="1" fill="#000"/>
<text transform="translate(1650.0 195.0) scale(0.92 1)" font-family="Liberation Sans, sans-serif" font-size="10" text-rendering="geometricPrecision" fill="#000" stroke="#000" stroke-width="0.2">0.68440</text>
<rect x="1645" y="224" width="2" height="1" fill="#000"/>
<text transform="translate(1650.0 228.0) scale(0.92 1)" font-family="Liberation Sans, sans-serif" font-size="10" text-rendering="geometricPrecision" fill="#000" stroke="#000" stroke-width="0.2">0.68275</text>
<rect x="1645" y="257" width="2" height="1" fill="#000"/>
<text transform="translate(1650.0 261.0) scale(0.92 1)" font-family="Liberation Sans, sans-serif" font-size="10" text-rendering="geometricPrecision" fill="#000" stroke="#000" stroke-width="0.2">0.68105</text>
<rect x="1645" y="290" width="2" height="1" fill="#000"/>
<text transform="translate(1650.0 294.0) scale(0.92 1)" font-family="Liberation Sans, sans-serif" font-size="10" text-rendering="geometricPrecision" fill="#000" stroke="#000" stroke-width="0.2">0.67940</text>
<rect x="1645" y="323" width="2" height="1" fill="#000"/>
<text transform="translate(1650.0 327.0) scale(0.92 1)" font-family="Liberation Sans, sans-serif" font-size="10" text-rendering="geometricPrecision" fill="#000" stroke="#000" stroke-width="0.2">0.67770</text>
<rect x="1645" y="356" width="2" height="1" fill="#000"/>
<text transform="translate(1650.0 360.0) scale(0.92 1)" font-family="Liberation Sans, sans-serif" font-size="10" text-rendering="geometricPrecision" fill="#000" stroke="#000" stroke-width="0.2">0.67605</text>
<rect x="1645" y="389" width="2" height="1" fill="#000"/>
<text transform="translate(1650.0 393.0) scale(0.92 1)" font-family="Liberation Sans, sans-serif" font-size="10" text-rendering="geometricPrecision" fill="#000" stroke="#000" stroke-width="0.2">0.67435</text>
<rect x="1645" y="422" width="2" height="1" fill="#000"/>
<text transform="translate(1650.0 426.0) scale(0.92 1)" font-family="Liberation Sans, sans-serif" font-size="10" text-rendering="geometricPrecision" fill="#000" stroke="#000" stroke-width="0.2">0.67270</text>
<rect x="1645" y="455" width="2" height="1" fill="#000"/>
<text transform="translate(1650.0 459.0) scale(0.92 1)" font-family="Liberation Sans, sans-serif" font-size="10" text-rendering="geometricPrecision" fill="#000" stroke="#000" stroke-width="0.2">0.67100</text>
<rect x="1645" y="488" width="2" height="1" fill="#000"/>
<text transform="translate(1650.0 492.0) scale(0.92 1)" font-family="Liberation Sans, sans-serif" font-size="10" text-rendering="geometricPrecision" fill="#000" stroke="#000" stroke-width="0.2">0.66935</text>
<rect x="1645" y="521" width="2" height="1" fill="#000"/>
<text transform="translate(1650.0 525.0) scale(0.92 1)" font-family="Liberation Sans, sans-serif" font-size="10" text-rendering="geometricPrecision" fill="#000" stroke="#000" stroke-width="0.2">0.66765</text>
<rect x="1645" y="554" width="2" height="1" fill="#000"/>
<text transform="translate(1650.0 558.0) scale(0.92 1)" font-family="Liberation Sans, sans-serif" font-size="10" text-rendering="geometricPrecision" fill="#000" stroke="#000" stroke-width="0.2">0.66600</text>
<rect x="1645" y="587" width="2" height="1" fill="#000"/>
<text transform="translate(1650.0 591.0) scale(0.92 1)" font-family="Liberation Sans, sans-serif" font-size="10" text-rendering="geometricPrecision" fill="#000" stroke="#000" stroke-width="0.2">0.66435</text>
<rect x="1646" y="438" width="41" height="11" fill="#ff0000"/>
<text transform="translate(1650.0 447) scale(0.92 1)" font-family="Liberation Sans, sans-serif" font-size="10" text-rendering="geometricPrecision" fill="#fff" stroke="#fff" stroke-width="0.2">0.67160</text>
<rect x="1646" y="469" width="41" height="11" fill="#ff0000"/>
<text transform="translate(1650.0 478) scale(0.92 1)" font-family="Liberation Sans, sans-serif" font-size="10" text-rendering="geometricPrecision" fill="#fff" stroke="#fff" stroke-width="0.2">0.67002</text>
<rect x="1646" y="500" width="41" height="11" fill="#000"/>
<text transform="translate(1650.0 509) scale(0.92 1)" font-family="Liberation Sans, sans-serif" font-size="10" text-rendering="geometricPrecision" fill="#fff" stroke="#fff" stroke-width="0.2">0.66851</text>
<rect x="1646" y="513" width="41" height="11" fill="#cd853f"/>
<text transform="translate(1650.0 522) scale(0.92 1)" font-family="Liberation Sans, sans-serif" font-size="10" text-rendering="geometricPrecision" fill="#fff" stroke="#fff" stroke-width="0.2">0.66780</text>
<rect x="1646" y="542" width="41" height="11" fill="#0000ff"/>
<text transform="translate(1650.0 551) scale(0.92 1)" font-family="Liberation Sans, sans-serif" font-size="10" text-rendering="geometricPrecision" fill="#fff" stroke="#fff" stroke-width="0.2">0.66633</text>
<rect x="1646" y="571" width="41" height="11" fill="#0000ff"/>
<text transform="translate(1650.0 580) scale(0.92 1)" font-family="Liberation Sans, sans-serif" font-size="10" text-rendering="geometricPrecision" fill="#fff" stroke="#fff" stroke-width="0.2">0.66482</text>
<text transform="translate(1647.5 603.0) scale(0.92 1)" font-family="Liberation Sans, sans-serif" font-size="10" text-rendering="geometricPrecision" fill="#000" stroke="#000" stroke-width="0.2">0.004211</text>
<text transform="translate(1647.5 659.0) scale(0.92 1)" font-family="Liberation Sans, sans-serif" font-size="10" text-rendering="geometricPrecision" fill="#000" stroke="#000" stroke-width="0.2">0.00</text>
<text transform="translate(1647.5 708.0) scale(0.92 1)" font-family="Liberation Sans, sans-serif" font-size="10" text-rendering="geometricPrecision" fill="#000" stroke="#000" stroke-width="0.2">-0.003755</text>
<rect x="1645" y="655" width="2" height="1" fill="#000"/>
<rect x="1645" y="594" width="1" height="1" fill="#000"/>
<rect x="1645" y="710" width="1" height="1" fill="#000"/>
<rect x="1645" y="715" width="1" height="1" fill="#000"/>
<text transform="translate(1647.4 724.0) scale(0.92 1)" font-family="Liberation Sans, sans-serif" font-size="10" text-rendering="geometricPrecision" fill="#000" stroke="#000" stroke-width="0.2">100</text>
<text transform="translate(1647.4 740.0) scale(0.92 1)" font-family="Liberation Sans, sans-serif" font-size="10" text-rendering="geometricPrecision" fill="#000" stroke="#000" stroke-width="0.2">80</text>
<text transform="translate(1647.4 771.0) scale(0.92 1)" font-family="Liberation Sans, sans-serif" font-size="10" text-rendering="geometricPrecision" fill="#000" stroke="#000" stroke-width="0.2">50</text>
<text transform="translate(1647.4 809.0) scale(0.92 1)" font-family="Liberation Sans, sans-serif" font-size="10" text-rendering="geometricPrecision" fill="#000" stroke="#000" stroke-width="0.2">15</text>
<text transform="translate(1647.4 818.1) scale(0.92 1)" font-family="Liberation Sans, sans-serif" font-size="10" text-rendering="geometricPrecision" fill="#000" stroke="#000" stroke-width="0.2">0</text>
<text transform="translate(20.5 38) scale(0.92 1)" font-family="Liberation Sans, sans-serif" font-size="10" text-rendering="geometricPrecision" fill="#000" stroke="#000" stroke-width="0.2" textLength="63.70">AUDUSD-,H4</text>
<text transform="translate(84.5 38) scale(0.92 1)" font-family="Liberation Sans, sans-serif" font-size="10" text-rendering="geometricPrecision" fill="#000" stroke="#000" stroke-width="0.2" textLength="153.80">0.66880 0.66883 0.66840 0.66851</text>
<polygon points="8,33 15.5,33 11.75,37" fill="#000" shape-rendering="geometricPrecision"/>
<text transform="translate(9 605) scale(0.92 1)" font-family="Liberation Sans, sans-serif" font-size="10" text-rendering="geometricPrecision" fill="#000" stroke="#000" stroke-width="0.2" textLength="167.39">MACD(12,26,9) -0.002111 -0.002676</text>
<text transform="translate(9 726) scale(0.92 1)" font-family="Liberation Sans, sans-serif" font-size="10" text-rendering="geometricPrecision" fill="#000" stroke="#000" stroke-width="0.2" textLength="74.13">RSI(14) 39.6829</text>
<rect x="5" y="821" width="1" height="4" fill="#000"/>
<text transform="translate(4 834) scale(0.92 1)" font-family="Liberation Sans, sans-serif" font-size="10" text-rendering="geometricPrecision" fill="#000" stroke="#000" stroke-width="0.2">8 Jun 2023</text>
<rect x="69" y="821" width="1" height="4" fill="#000"/>
<text transform="translate(68 834) scale(0.92 1)" font-family="Liberation Sans, sans-serif" font-size="10" text-rendering="geometricPrecision" fill="#000" stroke="#000" stroke-width="0.2">9 Jun 04:00</text>
<rect x="133" y="821" width="1" height="4" fill="#000"/>
<text transform="translate(132 834) scale(0.92 1)" font-family="Liberation Sans, sans-serif" font-size="10" text-rendering="geometricPrecision" fill="#000" stroke="#000" stroke-width="0.2">11 Jun 23:00</text>
<rect x="197" y="821" width="1" height="4" fill="#000"/>
<text transform="translate(196 834) scale(0.92 1)" font-family="Liberation Sans, sans-serif" font-size="10" text-rendering="geometricPrecision" fill="#000" stroke="#000" stroke-width="0.2">12 Jun 12:00</text>
<rect x="261" y="821" width="1" height="4" fill="#000"/>
<text transform="translate(260 834) scale(0.92 1)" font-family="Liberation Sans, sans-serif" font-size="10" text-rendering="geometricPrecision" fill="#000" stroke="#000" stroke-width="0.2">13 Jun 04:00</text>
<rect x="325" y="821" width="1" height="4" fill="#000"/>
<text transform="translate(324 834) scale(0.92 1)" font-family="Liberation Sans, sans-serif" font-size="10" text-rendering="geometricPrecision" fill="#000" stroke="#000" stroke-width="0.2">13 Jun 20:00</text>
<rect x="389" y="821" width="1" height="4" fill="#000"/>
<text transform="translate(388 834) scale(0.92 1)" font-family="Liberation Sans, sans-serif" font-size="10" text-rendering="geometricPrecision" fill="#000" stroke="#000" stroke-width="0.2">14 Jun 12:00</text>
<rect x="453" y="821" width="1" height="4" fill="#000"/>
<text transform="translate(452 834) scale(0.92 1)" font-family="Liberation Sans, sans-serif" font-size="10" text-rendering="geometricPrecision" fill="#000" stroke="#000" stroke-width="0.2">15 Jun 04:00</text>
<rect x="517" y="821" width="1" height="4" fill="#000"/>
<text transform="translate(516 834) scale(0.92 1)" font-family="Liberation Sans, sans-serif" font-size="10" text-rendering="geometricPrecision" fill="#000" stroke="#000" stroke-width="0.2">15 Jun 20:00</text>
<rect x="581" y="821" width="1" height="4" fill="#000"/>
<text transform="translate(580 834) scale(0.92 1)" font-family="Liberation Sans, sans-serif" font-size="10" text-rendering="geometricPrecision" fill="#000" stroke="#000" stroke-width="0.2">16 Jun 12:00</text>
<rect x="645" y="821" width="1" height="4" fill="#000"/>
<text transform="translate(644 834) scale(0.92 1)" font-family="Liberation Sans, sans-serif" font-size="10" text-rendering="geometricPrecision" fill="#000" stroke="#000" stroke-width="0.2">19 Jun 04:00</text>
<rect x="709" y="821" width="1" height="4" fill="#000"/>
<text transform="translate(708 834) scale(0.92 1)" font-family="Liberation Sans, sans-serif" font-size="10" text-rendering="geometricPrecision" fill="#000" stroke="#000" stroke-width="0.2">19 Jun 20:00</text>
<rect x="773" y="821" width="1" height="4" fill="#000"/>
<text transform="translate(772 834) scale(0.92 1)" font-family="Liberation Sans, sans-serif" font-size="10" text-rendering="geometricPrecision" fill="#000" stroke="#000" stroke-width="0.2">20 Jun 12:00</text>
<rect x="837" y="821" width="1" height="4" fill="#000"/>
<text transform="translate(836 834) scale(0.92 1)" font-family="Liberation Sans, sans-serif" font-size="10" text-rendering="geometricPrecision" fill="#000" stroke="#000" stroke-width="0.2">21 Jun 04:00</text>
<rect x="901" y="821" width="1" height="4" fill="#000"/>
<text transform="translate(900 834) scale(0.92 1)" font-family="Liberation Sans, sans-serif" font-size="10" text-rendering="geometricPrecision" fill="#000" stroke="#000" stroke-width="0.2">21 Jun 20:00</text>
<rect x="965" y="821" width="1" height="4" fill="#000"/>
<text transform="translate(964 834) scale(0.92 1)" font-family="Liberation Sans, sans-serif" font-size="10" text-rendering="geometricPrecision" fill="#000" stroke="#000" stroke-width="0.2">22 Jun 12:00</text>
<rect x="1029" y="821" width="1" height="4" fill="#000"/>
<text transform="translate(1028 834) scale(0.92 1)" font-family="Liberation Sans, sans-serif" font-size="10" text-rendering="geometricPrecision" fill="#000" stroke="#000" stroke-width="0.2">23 Jun 04:00</text>
<rect x="1093" y="821" width="1" height="4" fill="#000"/>
<text transform="translate(1092 834) scale(0.92 1)" font-family="Liberation Sans, sans-serif" font-size="10" text-rendering="geometricPrecision" fill="#000" stroke="#000" stroke-width="0.2">25 Jun 23:00</text>
<rect x="1157" y="821" width="1" height="4" fill="#000"/>
<text transform="translate(1156 834) scale(0.92 1)" font-family="Liberation Sans, sans-serif" font-size="10" text-rendering="geometricPrecision" fill="#000" stroke="#000" stroke-width="0.2">26 Jun 12:00</text>
<rect x="1221" y="821" width="1" height="4" fill="#000"/>
<text transform="translate(1220 834) scale(0.92 1)" font-family="Liberation Sans, sans-serif" font-size="10" text-rendering="geometricPrecision" fill="#000" stroke="#000" stroke-width="0.2">27 Jun 04:00</text>
<rect x="1285" y="821" width="1" height="4" fill="#000"/>
<text transform="translate(1284 834) scale(0.92 1)" font-family="Liberation Sans, sans-serif" font-size="10" text-rendering="geometricPrecision" fill="#000" stroke="#000" stroke-width="0.2">27 Jun 20:00</text>
</g></svg>
</body></html>
